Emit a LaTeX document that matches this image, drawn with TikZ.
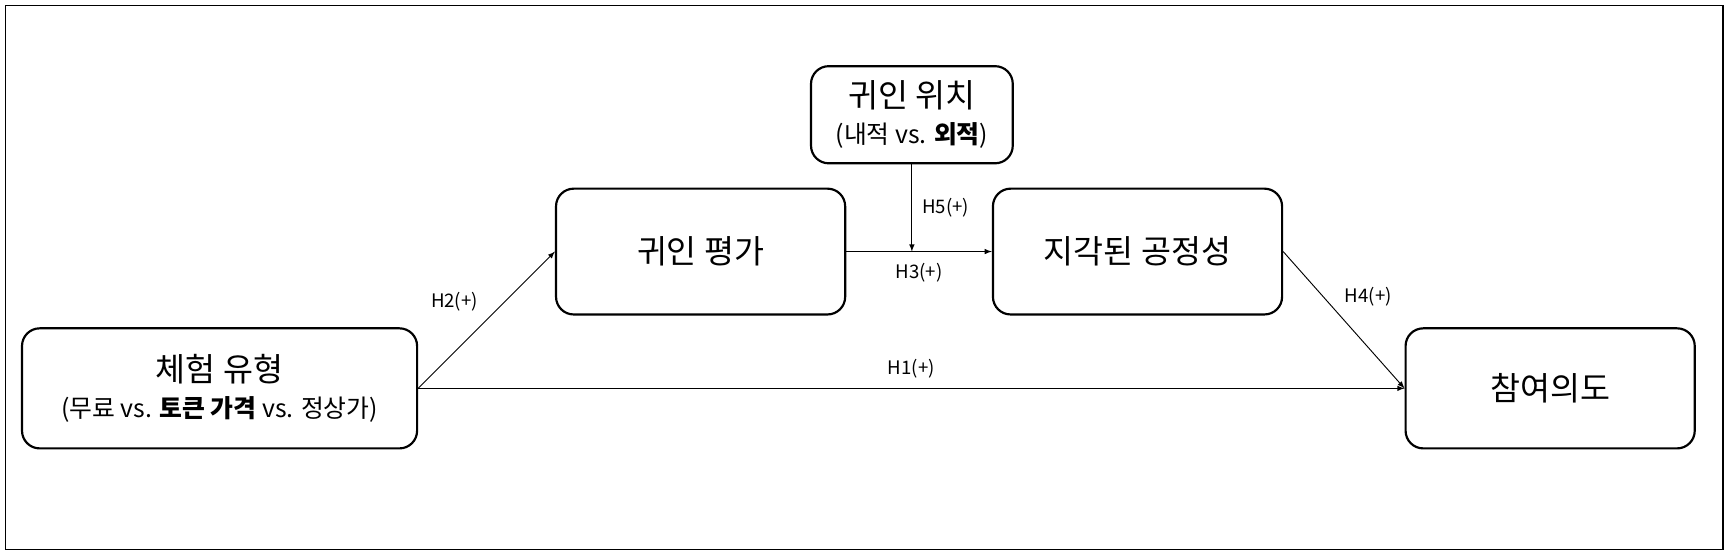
\documentclass[tikz,border=0pt]{standalone}
\usepackage{fontspec}
\setmainfont{Noto Sans CJK KR}
\begin{document}
\begin{tikzpicture}[
    x=0.025cm, y=-0.025cm,
    box/.style={rectangle, draw, line width=1.4pt, rounded corners=0.4cm, align=center, font=\fontsize{21}{25}\selectfont},
    hyp/.style={font=\fontsize{12}{14}\selectfont},
    arrow/.style={->, >=latex, line width=0.6pt}
]
\useasboundingbox (0,0) rectangle (1568,506);

% frame
\draw[line width=1.2pt] (5,5) rectangle (1562,498);

% Define nodes
\node (type) [box, minimum width=8.95cm, minimum height=2.72cm] at (199,352)
  {체험 유형\\[-2pt]{\fontsize{16}{19}\selectfont(무료 vs. \textbf{토큰 가격} vs. 정상가)}};
\node (eval) [box, minimum width=6.55cm, minimum height=2.85cm] at (635,228) {귀인 평가};
\node (locus) [box, minimum width=4.57cm, minimum height=2.2cm] at (826.5,104)
  {귀인 위치\\[-2pt]{\fontsize{16}{19}\selectfont(내적 vs. \textbf{외적})}};
\node (fair) [box, minimum width=6.55cm, minimum height=2.85cm] at (1031,228) {지각된 공정성};
\node (intent) [box, minimum width=6.55cm, minimum height=2.72cm] at (1405,352) {참여의도};
\coordinate (mid) at (826.5,228);

% Connect nodes
\draw [arrow] (type.east) -- node[hyp, pos=0.5, above left=2pt] {H2(+)} (eval.west);
\draw [arrow] (type.east) -- node[hyp, pos=0.5, above=3pt] {H1(+)} (intent.west);
\draw [arrow] (eval.east) -- node[hyp, below=4pt] {H3(+)} (fair.west);
\draw [arrow] (locus.south) -- node[hyp, right=3pt] {H5(+)} (mid);
\draw [arrow] (fair.east) -- node[hyp, pos=0.45, above right=1pt] {H4(+)} (intent.west);
\end{tikzpicture}
\end{document}
